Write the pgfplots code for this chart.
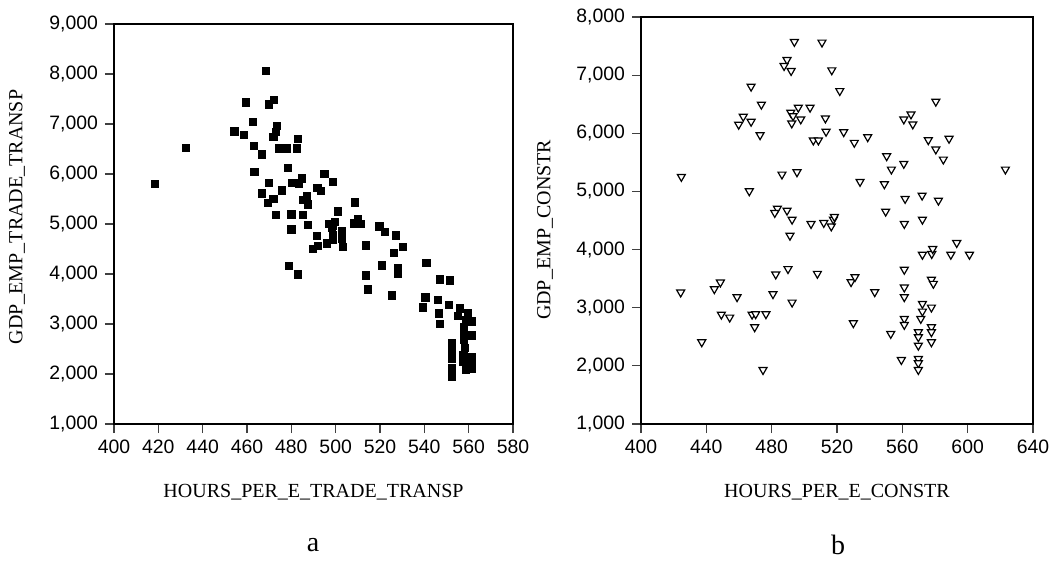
\documentclass[border=0pt]{standalone}
\usepackage{pgfplots}
\pgfplotsset{compat=1.18}
\usepackage{fontspec}
\setmainfont{Liberation Serif}
\newfontfamily\arialf{Liberation Sans}

\pgfplotstableread{
x y
468.4 8066
459.4 7434
469.9 7394
472.2 7480
462.8 7040
454.3 6854
458.5 6780
473.5 6960
472.9 6846
471.9 6746
463.0 6566
466.6 6394
474.3 6514
478.0 6514
482.5 6514
483.0 6700
432.3 6520
418.5 5806
478.3 6126
463.3 6040
469.8 5826
480.3 5820
483.3 5814
484.6 5914
466.6 5614
475.8 5674
469.3 5420
471.9 5500
473.2 5180
480.0 5194
480.0 4894
494.9 6006
498.8 5846
491.8 5726
493.2 5660
485.1 5480
487.1 5554
487.6 5394
485.1 5180
487.3 4986
508.7 5434
501.0 5254
497.1 5006
498.6 4974
499.8 5046
498.3 4934
510.2 5106
508.3 5014
511.5 5000
491.4 4766
502.8 4854
502.8 4706
503.4 4540
498.8 4780
498.8 4694
496.1 4614
492.0 4560
489.9 4500
519.7 4954
522.2 4846
527.1 4774
513.5 4574
530.5 4546
526.2 4426
478.8 4166
483.1 3994
520.8 4174
528.1 4126
528.1 4006
540.9 4220
513.7 3974
514.7 3694
525.5 3574
540.5 3534
539.2 3334
547.0 3894
551.7 3874
546.3 3480
546.7 3214
547.2 3000
551.2 3380
556.1 3314
555.0 3166
559.8 3214
558.6 3080
561.5 3054
557.9 2946
557.9 2814
557.9 2680
561.5 2774
552.6 2626
552.6 2480
552.6 2314
558.4 2520
557.6 2380
557.6 2246
561.3 2346
561.3 2280
552.6 2114
552.6 2026
552.6 1946
558.6 2080
561.3 2114
}\tradetab

\pgfplotstableread{
x y
493.9 7574
510.8 7563
489.4 7263
487.6 7160
491.9 7074
516.8 7086
467.4 6805
521.7 6729
473.7 6495
496.3 6443
503.5 6443
491.7 6357
493.1 6298
497.8 6241
492.3 6172
462.6 6287
459.8 6150
467.4 6201
512.9 6258
513.3 6029
472.9 5970
505.5 5879
508.6 5879
424.7 5253
486.3 5293
495.5 5332
466.3 5005
483.5 4707
481.9 4632
489.4 4672
492.5 4517
491.2 4241
504.1 4443
511.9 4460
516.5 4401
517.8 4517
518.4 4564
424.3 3264
444.9 3322
448.6 3436
458.8 3184
449.2 2884
454.3 2833
468.0 2884
470.2 2891
476.5 2891
469.6 2667
437.2 2408
474.7 1931
480.8 3236
482.5 3574
490.0 3667
492.5 3091
508.0 3586
580.5 6546
524.1 6022
530.6 5839
538.8 5936
560.9 6241
565.3 6327
566.4 6155
575.9 5884
588.6 5908
580.5 5724
585.1 5551
550.4 5608
553.3 5379
560.9 5477
623.1 5379
534.1 5167
549.0 5126
561.7 4874
572.1 4931
582.1 4844
549.8 4655
561.2 4443
572.3 4517
593.3 4115
572.3 3913
578.0 3926
578.6 4012
589.7 3913
601.1 3913
561.2 3655
528.6 3443
531.0 3529
577.8 3483
579.0 3414
543.1 3270
561.2 3350
561.2 3184
572.3 3069
572.3 2936
571.3 2810
577.8 3005
530.0 2736
561.2 2810
561.2 2707
552.9 2552
569.8 2581
569.8 2495
569.8 2350
577.8 2667
577.8 2581
577.8 2408
559.4 2103
569.8 2121
569.8 2047
569.8 1931
}\constrtab

\pgfplotsset{
  myax/.style={
    scale only axis,
    axis line style={line width=0.7pt},
    tick align=outside,
    xtick pos=left, ytick pos=left,
    major tick length=4.5pt,
    tick style={line width=0.6pt, color=black!75},
    tick label style={font=\fontsize{9.7}{11}\arialf},
    /pgf/number format/assume math mode=true,
    /pgf/number format/1000 sep={,},
    label style={font=\fontsize{9.4}{11}\selectfont},
  }
}

\begin{document}
\begin{tikzpicture}
\useasboundingbox (0,0) rectangle (525.5pt,-281.5pt);
\begin{axis}[myax,
  at={(57pt,-212pt)}, anchor=south west,
  width=199.5pt, height=200pt,
  xmin=400, xmax=580, ymin=1000, ymax=9000,
  xtick={400,420,...,580}, ytick={1000,2000,...,9000},
  xlabel={HOURS\_PER\_E\_TRADE\_TRANSP},
  ylabel={GDP\_EMP\_TRADE\_TRANSP},
  every axis x label/.style={at={(axis description cs:0.5,-0.17)}, anchor=center},
  every axis y label/.style={at={(axis description cs:-0.2431,0.5175)}, rotate=90, anchor=center},
]
\addplot[only marks, mark=square*, mark size=1.8pt, black] table[x=x,y=y] {\tradetab};
\end{axis}
\begin{axis}[myax,
  at={(320.5pt,-212pt)}, anchor=south west,
  width=196pt, height=203.5pt,
  xmin=400, xmax=640, ymin=1000, ymax=8000,
  xtick={400,440,...,640}, ytick={1000,2000,...,8000},
  xlabel={HOURS\_PER\_E\_CONSTR},
  ylabel={GDP\_EMP\_CONSTR},
  every axis x label/.style={at={(axis description cs:0.5,-0.167)}, anchor=center},
  every axis y label/.style={at={(axis description cs:-0.2449,0.477)}, rotate=90, anchor=center},
]
\addplot[only marks, mark=triangle*, mark size=2.3pt,
  mark options={rotate=180, fill=white, draw=black, line width=0.6pt}] table[x=x,y=y] {\constrtab};
\end{axis}
\node[font=\fontsize{14}{16}\selectfont] at (156.5pt,-272.5pt) {a};
\node[font=\fontsize{14}{16}\selectfont] at (419pt,-272.5pt) {b};
\end{tikzpicture}
\end{document}
